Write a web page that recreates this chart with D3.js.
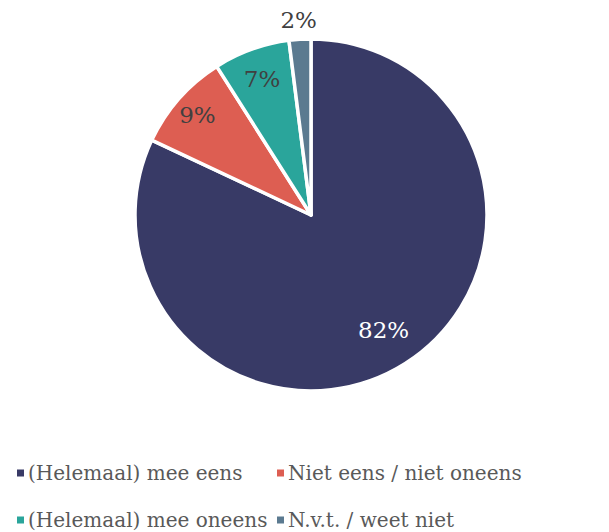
<!DOCTYPE html>
<html><head><meta charset="utf-8">
<script src="https://cdn.jsdelivr.net/npm/d3@7"></script>
<style>body{margin:0;background:#fff}svg{display:block}</style>
</head><body>
<script>
const categories = ["(Helemaal) mee eens","Niet eens / niet oneens","(Helemaal) mee oneens","N.v.t. / weet niet"];
const values = [82, 9, 7, 2];
const labels = ["82%","9%","7%","2%"];
const colors = ["#383A66","#DD5E52","#2AA59B","#5B7A90"];

const W = 609, H = 532;
const svg = d3.select("body").append("svg").attr("width", W).attr("height", H);
const cx = 311, cy = 215, R = 176;
const font = "'DejaVu Serif', serif";

const pie = d3.pie().sort(null).value(d => d)(values);
const arc = d3.arc().innerRadius(0).outerRadius(R);
const g = svg.append("g").attr("transform", `translate(${cx},${cy})`);
g.selectAll("path").data(pie).join("path")
  .attr("d", arc).attr("fill", (d,i) => colors[i])
  .attr("stroke", "#fff").attr("stroke-width", 3.5).attr("stroke-linejoin","round");

const labelR = [0.77, 0.86, 0.82, 1.11];
g.selectAll("text").data(pie).join("text")
  .attr("transform", (d,i) => {
    const a = d3.arc().innerRadius(R*labelR[i]).outerRadius(R*labelR[i]);
    const [x,y] = a.centroid(d);
    return `translate(${x},${y})`;
  })
  .attr("text-anchor","middle").attr("dy","0.36em")
  .attr("font-family", font).attr("font-size", 23)
  .attr("fill", (d,i) => i === 0 ? "#fff" : "#404040")
  .text((d,i) => labels[i]);

const legX = [17, 277], legY = [473, 520];
const lg = svg.append("g");
categories.forEach((c,i) => {
  const col = i % 2, row = Math.floor(i/2);
  const it = lg.append("g").attr("transform", `translate(${legX[col]},${legY[row]})`);
  it.append("rect").attr("x",0).attr("y",-3.5).attr("width",7).attr("height",7).attr("fill",colors[i]);
  it.append("text").attr("x",11).attr("y",0).attr("dy","0.35em")
    .attr("font-family", font).attr("font-size", 20).attr("fill","#595959").text(c);
});
</script>
</body></html>
